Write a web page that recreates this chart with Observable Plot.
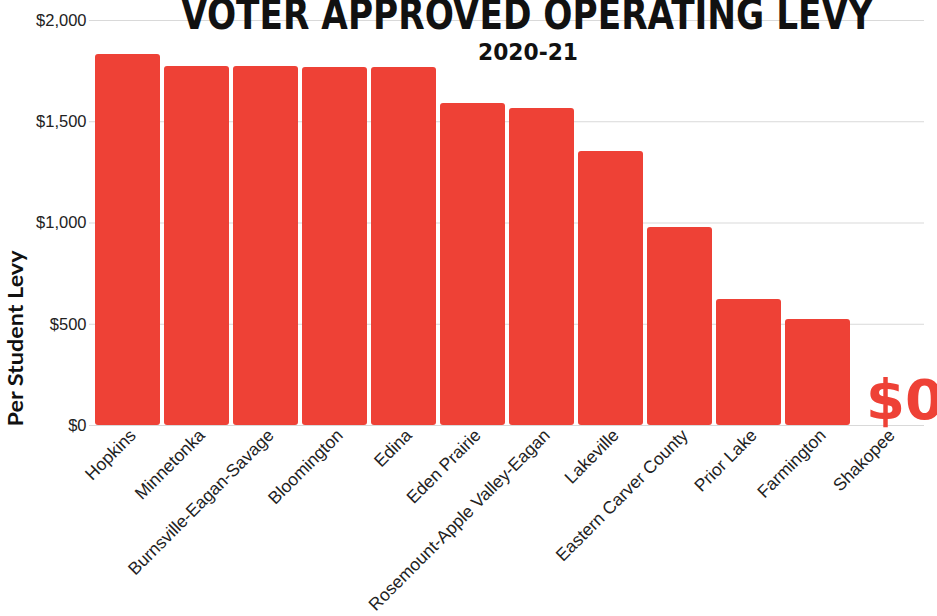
<!DOCTYPE html>
<html>
<head>
<meta charset="utf-8">
<script src="https://cdn.jsdelivr.net/npm/d3@7"></script>
<script src="https://cdn.jsdelivr.net/npm/@observablehq/plot@0.6"></script>
<style>
  body { margin: 0; background: #fff; }
  #chart svg { overflow: visible; }
</style>
</head>
<body>
<div id="chart"></div>
<script>
const districts = ["Hopkins", "Minnetonka", "Burnsville-Eagan-Savage", "Bloomington", "Edina", "Eden Prairie", "Rosemount-Apple Valley-Eagan", "Lakeville", "Eastern Carver County", "Prior Lake", "Farmington", "Shakopee"];
const levy = [1832, 1773, 1773, 1768, 1768, 1590, 1565, 1353, 978, 622, 523, 0];
const yTicks = [0, 500, 1000, 1500, 2000];
const titleText = "VOTER APPROVED OPERATING LEVY";
const subtitleText = "2020-21";
const yLabel = "Per Student Levy";

const data = districts.map((d, i) => ({district: d, value: levy[i]}));
const red = "#EE4136";

const chart = Plot.plot({
  width: 937,
  height: 616,
  marginLeft: 89,
  marginRight: 13,
  marginTop: 20,
  marginBottom: 191,
  style: {fontFamily: "'Liberation Sans', Arial, sans-serif", fontSize: "17px", color: "#222", background: "#fff"},
  x: {domain: districts, paddingInner: 0.06, paddingOuter: 0.03, label: null},
  y: {domain: [0, 2000], label: null},
  marks: [
    Plot.gridY(yTicks, {stroke: "#d9d9d9", strokeOpacity: 1}),
    Plot.barY(data, {x: "district", y: "value", fill: red, rx: 3}),
    Plot.axisY(yTicks, {tickSize: 0, tickPadding: 3, tickFormat: d3.format("$,"), fontSize: 16.5, label: null}),
    Plot.axisX({tickSize: 0, tickRotate: -45, tickPadding: 7, dx: 5, fontSize: 17.5, label: null}),
    Plot.text(data.filter(d => d.value === 0), {
      x: "district", y: "value", text: d => d3.format("$,")(d.value),
      textAnchor: "start", lineAnchor: "bottom", dx: -21, dy: -7,
      fill: red, fontSize: 56, fontWeight: "bold",
      fontFamily: "'DejaVu Sans', sans-serif"
    }),
    Plot.text([titleText], {
      frameAnchor: "top", text: d => d, lineAnchor: "bottom", dy: 8, dx: 20,
      fontSize: 42, fontWeight: "bold", fill: "#111",
      fontFamily: "'DejaVu Sans Condensed', 'DejaVu Sans', sans-serif",
      className: "title-text"
    }),
    Plot.text([subtitleText], {
      frameAnchor: "top", text: d => d, lineAnchor: "bottom", dy: 39, dx: 21,
      fontSize: 23, fontWeight: "bold", fill: "#111",
      fontFamily: "'DejaVu Sans Condensed', 'DejaVu Sans', sans-serif",
      className: "subtitle-text"
    }),
    Plot.text([yLabel], {
      frameAnchor: "bottom-left", text: d => d, rotate: -90, textAnchor: "start",
      dx: -67, dy: 1, fontSize: 20, fontWeight: "bold", fill: "#111",
      fontFamily: "Lato, 'Open Sans', sans-serif",
      className: "ylabel-text"
    })
  ]
});
document.getElementById("chart").append(chart);
const sel = d3.select(chart);
sel.selectAll(".title-text text").attr("textLength", 692).attr("lengthAdjust", "spacingAndGlyphs");
sel.selectAll(".subtitle-text text").attr("textLength", 100).attr("lengthAdjust", "spacingAndGlyphs");
sel.selectAll(".ylabel-text text").attr("textLength", 176).attr("lengthAdjust", "spacingAndGlyphs");
</script>
</body>
</html>
